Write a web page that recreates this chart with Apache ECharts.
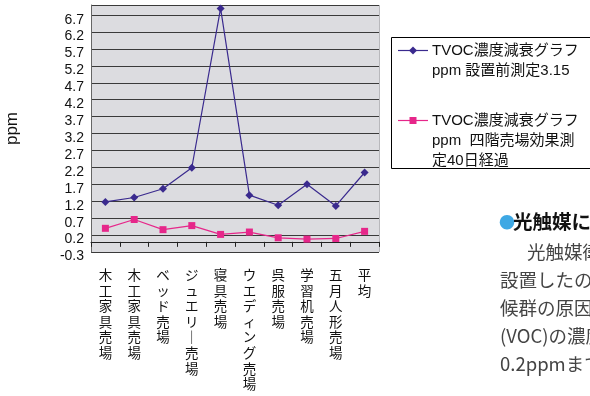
<!DOCTYPE html>
<html>
<head>
<meta charset="utf-8">
<script src="https://cdn.jsdelivr.net/npm/echarts@6/dist/echarts.min.js"></script>
<style>
  html, body { margin: 0; padding: 0; background: #fff; }
  #chart { width: 590px; height: 396px; }
</style>
</head>
<body>
<div id="chart"></div>
<script>
// Sales floors measured, plus the overall average
const floors = ['木工家具売場', '木工家具売場', 'ベッド売場', 'ジュエリー売場', '寝具売場',
                'ウエディング売場', '呉服売場', '学習机売場', '五月人形売場', '平均'];

// TVOC readings (ppm) before installation, 3.15
const beforeInstall = [1.18, 1.31, 1.57, 2.19, 6.9, 1.38, 1.08, 1.70, 1.06, 2.05];

// TVOC readings (ppm) on the fourth floor after 40 days
const after40Days = [0.40, 0.66, 0.36, 0.48, 0.22, 0.29, 0.12, 0.08, 0.10, 0.31];

const seriesNames = [
  'TVOC濃度減衰グラフ\nppm 設置前測定3.15',
  'TVOC濃度減衰グラフ\nppm  四階売場効果測\n定40日経過'
];

const yMin = -0.3, yMax = 7.0, yStep = 0.5;

const blue = '#3a2a8e';
const pink = '#e6278a';
const latin = '"Liberation Sans", Arial, "Noto Sans CJK JP", sans-serif';
const cjk = '"Noto Sans CJK JP", "Liberation Sans", sans-serif';

// Stack category names vertically, one character per line
function verticalText(s) {
  return s.split('').map(c => (c === 'ー' ? '｜' : c)).join('\n');
}

const chart = echarts.init(document.getElementById('chart'), null, { renderer: 'canvas' });

// Legend box drawn beside the plot
function legendEntry(y, color, symbolPath, label) {
  return [
    { type: 'line', shape: { x1: 398, y1: y, x2: 428, y2: y }, style: { stroke: color, lineWidth: 1.2 } },
    symbolPath,
    { type: 'text', x: 432, y: y - 10, style: { text: label, font: '15px ' + latin, fill: '#111', lineHeight: 20, verticalAlign: 'top' } }
  ];
}

const legendGraphics = [
  { type: 'rect', shape: { x: 391.5, y: 37.5, width: 210, height: 131 }, style: { fill: '#fff', stroke: '#000', lineWidth: 1 } }
].concat(
  legendEntry(50.5, blue,
    { type: 'polygon', shape: { points: [[413, 46.5], [417, 50.5], [413, 54.5], [409, 50.5]] }, style: { fill: blue } },
    seriesNames[0]),
  legendEntry(120.5, pink,
    { type: 'rect', shape: { x: 409.5, y: 117, width: 7, height: 7 }, style: { fill: pink } },
    seriesNames[1])
);

// Article text running alongside the chart
const bodyFont = '18.5px ' + cjk;
const articleGraphics = [
  { type: 'text', x: 499, y: 222, style: { text: '●', font: '16px ' + cjk, fill: '#3ea8e4', verticalAlign: 'middle' } },
  { type: 'text', x: 513, y: 222, style: { text: '光触媒による効果', font: 'bold 19.5px ' + cjk, fill: '#111', verticalAlign: 'middle' } },
  { type: 'text', x: 527, y: 252, style: { text: '光触媒衛生装置を', font: bodyFont, fill: '#444', verticalAlign: 'middle' } },
  { type: 'text', x: 500, y: 280, style: { text: '設置したのち', font: bodyFont, fill: '#444', verticalAlign: 'middle' } },
  { type: 'text', x: 500, y: 308, style: { text: '候群の原因となる', font: bodyFont, fill: '#444', verticalAlign: 'middle' } },
  { type: 'text', x: 500, y: 336, style: { text: '(VOC)の濃度が', font: bodyFont, fill: '#444', verticalAlign: 'middle' } },
  { type: 'text', x: 500, y: 364, style: { text: '0.2ppmまで', font: bodyFont, fill: '#444', verticalAlign: 'middle' } }
];

chart.setOption({
  animation: false,
  backgroundColor: '#fff',
  grid: {
    left: 91, top: 5, right: 211, bottom: 144,
    show: true,
    backgroundColor: '#dcdce0',
    borderColor: '#b8b8bc',
    borderWidth: 0
  },
  xAxis: {
    type: 'category',
    data: floors,
    boundaryGap: true,
    axisLine: { show: true, lineStyle: { color: '#222', width: 1 } },
    axisTick: { show: true, length: 5, lineStyle: { color: '#222' } },
    axisLabel: {
      interval: 0,
      margin: 15,
      formatter: verticalText,
      fontFamily: cjk,
      fontSize: 13.5,
      lineHeight: 15.6,
      color: '#111',
      verticalAlign: 'top'
    },
    splitLine: { show: false }
  },
  yAxis: {
    type: 'value',
    min: yMin,
    max: yMax,
    interval: yStep,
    name: 'ppm',
    nameLocation: 'middle',
    nameRotate: 90,
    nameGap: 70,
    nameTextStyle: { fontFamily: latin, fontSize: 17, color: '#111' },
    axisLine: { show: true, lineStyle: { color: '#666', width: 1 } },
    axisTick: { show: false },
    axisLabel: {
      showMaxLabel: false,
      margin: 7,
      fontFamily: latin,
      fontSize: 14,
      color: '#111',
      verticalAlign: 'top',
      lineHeight: 9,
      formatter: v => v.toFixed(1)
    },
    splitLine: { show: true, lineStyle: { color: '#3a3a3a', width: 1 } }
  },
  series: [
    {
      name: seriesNames[0],
      type: 'line',
      data: beforeInstall,
      symbol: 'diamond',
      symbolSize: 8,
      itemStyle: { color: blue },
      lineStyle: { color: blue, width: 1.2 }
    },
    {
      name: seriesNames[1],
      type: 'line',
      data: after40Days,
      symbol: 'rect',
      symbolSize: 7,
      itemStyle: { color: pink },
      lineStyle: { color: pink, width: 1.2 }
    }
  ],
  graphic: [
    // right edge of the plot area
    { type: 'line', shape: { x1: 379.5, y1: 5, x2: 379.5, y2: 252 }, style: { stroke: '#b8b8bc', lineWidth: 1 } }
  ].concat(legendGraphics, articleGraphics)
});
</script>
</body>
</html>
